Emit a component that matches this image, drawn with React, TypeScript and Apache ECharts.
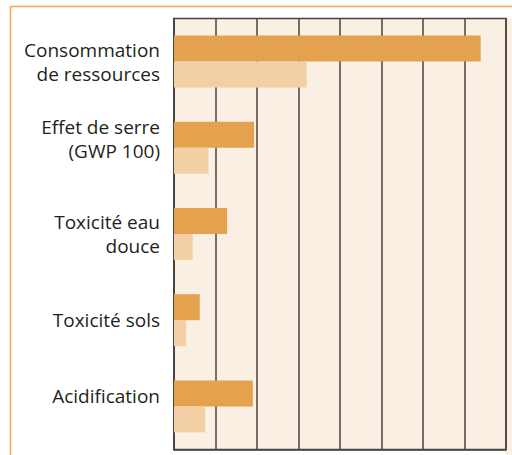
import React, { useEffect, useRef } from "react";
import * as echarts from "echarts";

const categories = [
  "Consommation\nde ressources",
  "Effet de serre\n(GWP 100)",
  "Toxicité eau\ndouce",
  "Toxicité sols",
  "Acidification",
];
const seriesDark = [7.39, 1.93, 1.28, 0.62, 1.9];
const seriesLight = [3.2, 0.83, 0.45, 0.29, 0.75];
const axisMax = 8;
const axisInterval = 1;

// vertical nudge of each label (style only): extra blank space below, px
const labelLift = [0, 17, 0, 0, 20];

export default function App() {
  const ref = useRef<HTMLDivElement>(null);
  useEffect(() => {
    if (!ref.current) return;
    const chart = echarts.init(ref.current, null, { renderer: "svg" });
    const dark = "#4a4142";
    const rich: Record<string, any> = {
      t: {
        color: "#231f20",
        fontFamily: "Open Sans",
        fontSize: 19,
        lineHeight: 24,
        align: "right",
      },
    };
    labelLift.forEach((h, i) => {
      rich["sp" + i] = { fontSize: 1, lineHeight: h, height: h };
    });
    chart.setOption({
      animation: false,
      backgroundColor: "#ffffff",
      graphic: [
        {
          type: "rect",
          z: -1,
          shape: { x: 505, y: 19, width: 7, height: 436 },
          style: { fill: "#faefe3" },
        },
        {
          type: "line",
          shape: { x1: 10.5, y1: 6.5, x2: 512, y2: 6.5 },
          style: { stroke: "#f2a552", lineWidth: 1.5 },
        },
        {
          type: "line",
          shape: { x1: 10.5, y1: 6.5, x2: 10.5, y2: 455 },
          style: { stroke: "#f2a552", lineWidth: 1.5 },
        },
      ],
      grid: {
        left: 174,
        right: 6,
        top: 18.5,
        bottom: 5.5,
        show: true,
        backgroundColor: "#faefe3",
        borderColor: dark,
        borderWidth: 1.5,
        containLabel: false,
      },
      xAxis: {
        type: "value",
        min: 0,
        max: axisMax,
        interval: axisInterval,
        axisLabel: { show: false },
        axisTick: { show: false },
        axisLine: { show: true, lineStyle: { color: dark, width: 1.5 } },
        splitLine: { show: true, lineStyle: { color: dark, width: 1.5 } },
      },
      yAxis: {
        type: "category",
        data: categories,
        inverse: true,
        axisTick: { show: false },
        axisLine: { show: true, lineStyle: { color: dark, width: 1.5 } },
        splitLine: { show: false },
        axisLabel: {
          margin: 14,
          color: "#231f20",
          fontFamily: "Open Sans",
          fontSize: 19,
          lineHeight: 24,
          align: "right",
          formatter: (value: string, index: number) => {
            const lines = value.split("\n").map((l) => `{t|${l}}`);
            if (labelLift[index] > 0) lines.push(`{sp${index}| }`);
            return lines.join("\n");
          },
          rich,
        },
      },
      series: [
        {
          name: "Série 1",
          type: "bar",
          data: seriesDark,
          barWidth: 26,
          barGap: "0%",
          itemStyle: { color: "#e4a14e" },
        },
        {
          name: "Série 2",
          type: "bar",
          data: seriesLight,
          barWidth: 26,
          barGap: "0%",
          itemStyle: { color: "#f2cfa4" },
        },
      ],
    });
    return () => chart.dispose();
  }, []);
  return (
    <div
      ref={ref}
      style={{ position: "fixed", left: 0, top: 0, width: 512, height: 455 }}
    />
  );
}
